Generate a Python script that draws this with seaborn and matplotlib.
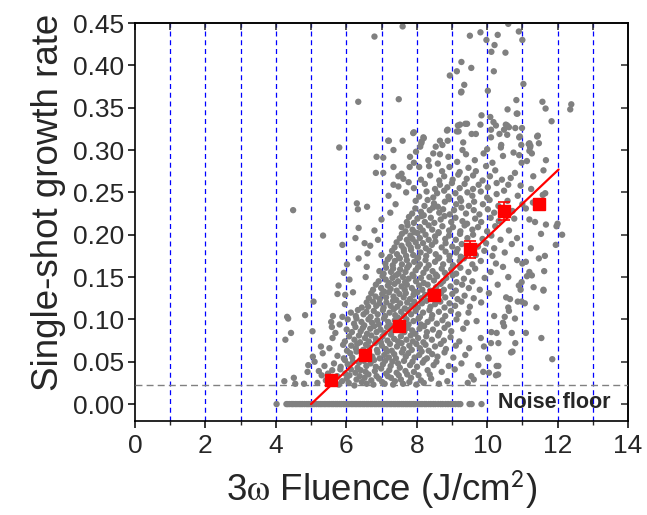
import matplotlib
matplotlib.use("Agg")
import matplotlib.pyplot as plt
import seaborn as sns
import pandas as pd
from matplotlib.ticker import MultipleLocator

# ---------------- data ----------------
# growth-rate cloud (fluence J/cm2, growth rate)
cloud = [
    (4.24,0.027),(4.55,0.024),(4.80,0.024),(5.18,0.025),(5.42,0.028),(5.66,0.031),(5.79,0.023),(5.88,0.027),(6.01,0.030),(6.07,0.025),
    (6.23,0.022),(6.29,0.029),(6.44,0.026),(6.52,0.031),(6.58,0.024),(6.71,0.028),(6.77,0.023),(6.93,0.030),(7.02,0.026),(7.09,0.024),
    (7.27,0.031),(7.33,0.023),(7.38,0.027),(7.55,0.029),(7.61,0.024),(7.79,0.026),(7.84,0.031),(7.99,0.023),(8.12,0.028),(8.20,0.025),
    (8.41,0.030),(8.63,0.024),(8.87,0.027),(9.62,0.029),(9.55,0.033),(9.45,0.025),
    (4.51,0.031),(4.90,0.038),(5.30,0.034),(5.22,0.039),(5.48,0.036),(5.60,0.040),(5.74,0.033),(5.83,0.041),(5.97,0.036),(6.09,0.034),
    (6.13,0.041),(6.26,0.037),(6.38,0.033),(6.41,0.040),(6.55,0.038),(6.63,0.035),(6.81,0.039),(6.86,0.033),(6.99,0.042),(7.13,0.036),
    (7.18,0.033),(7.22,0.040),(7.43,0.037),(7.49,0.034),(7.68,0.039),(7.73,0.035),(7.92,0.038),(8.05,0.034),(8.31,0.040),(8.37,0.035),
    (8.71,0.038),(9.08,0.041),(9.89,0.038),(10.05,0.037),(10.25,0.034),(10.31,0.035),
    (4.92,0.046),(5.10,0.050),(5.38,0.045),(5.65,0.048),(5.84,0.044),(5.96,0.052),(6.04,0.047),(6.19,0.050),(6.32,0.043),(6.36,0.049),
    (6.50,0.051),(6.57,0.045),(6.69,0.048),(6.79,0.052),(6.84,0.044),(7.04,0.047),(7.10,0.051),(7.26,0.045),(7.31,0.050),(7.47,0.048),
    (7.52,0.043),(7.64,0.051),(7.81,0.046),(7.88,0.050),(8.01,0.044),(8.17,0.049),(8.22,0.052),(8.48,0.046),(8.56,0.050),(8.91,0.045),
    (9.27,0.048),(9.75,0.046),(10.27,0.045),(10.32,0.045),(10.04,0.054),
    (5.05,0.056),(5.33,0.060),(5.75,0.057),(5.93,0.054),(6.11,0.060),(6.17,0.055),(6.29,0.062),(6.45,0.057),(6.49,0.053),(6.61,0.059),
    (6.74,0.056),(6.89,0.061),(6.95,0.054),(7.08,0.058),(7.16,0.062),(7.21,0.055),(7.36,0.059),(7.41,0.054),(7.58,0.061),(7.69,0.056),
    (7.76,0.060),(7.94,0.055),(8.07,0.058),(8.14,0.062),(8.29,0.054),(8.44,0.059),(8.59,0.056),(8.79,0.061),(9.04,0.055),(9.38,0.058),
    (10.03,0.055),(10.68,0.061),(10.72,0.062),(11.85,0.053),
    (5.28,0.068),(5.52,0.066),(5.91,0.070),(6.02,0.063),(6.14,0.069),(6.27,0.066),(6.31,0.071),(6.48,0.064),(6.56,0.070),(6.66,0.067),
    (6.82,0.072),(6.87,0.064),(7.01,0.069),(7.12,0.065),(7.24,0.071),(7.29,0.063),(7.44,0.068),(7.57,0.072),(7.62,0.065),(7.79,0.069),
    (7.86,0.064),(7.99,0.071),(8.09,0.066),(8.25,0.070),(8.34,0.063),(8.52,0.068),(8.68,0.071),(8.83,0.065),(9.11,0.069),(9.49,0.066),
    (9.91,0.068),(10.11,0.072),(10.32,0.072),(10.80,0.072),
    (4.27,0.076),(5.61,0.078),(5.96,0.074),(6.08,0.080),(6.23,0.076),(6.36,0.081),(6.39,0.073),(6.53,0.078),(6.64,0.074),(6.71,0.081),
    (6.84,0.077),(6.98,0.073),(7.03,0.080),(7.17,0.075),(7.27,0.082),(7.36,0.077),(7.47,0.074),(7.55,0.080),(7.71,0.076),(7.83,0.081),
    (7.89,0.074),(8.04,0.078),(8.19,0.073),(8.27,0.080),(8.43,0.076),(8.61,0.081),(8.77,0.075),(8.96,0.079),(9.21,0.074),(9.82,0.078),
    (11.54,0.078),(11.10,0.084),
    (4.43,0.084),(5.04,0.086),(5.59,0.091),(5.69,0.084),(6.01,0.088),(6.16,0.085),(6.26,0.091),(6.41,0.086),(6.47,0.090),(6.59,0.083),
    (6.68,0.089),(6.79,0.092),(6.86,0.085),(6.97,0.088),(7.09,0.084),(7.16,0.091),(7.28,0.087),(7.65,0.085),(7.74,0.090),(7.87,0.087),
    (7.96,0.083),(8.08,0.089),(8.21,0.092),(8.29,0.085),(8.46,0.088),(8.64,0.084),(8.79,0.090),(8.98,0.086),(9.32,0.089),(10.12,0.085),
    (10.27,0.084),(10.70,0.084),(10.48,0.092),
    (5.57,0.097),(5.81,0.094),(6.04,0.100),(6.22,0.095),(6.29,0.101),(6.43,0.097),(6.51,0.093),(6.63,0.100),(6.73,0.096),(6.88,0.099),
    (6.93,0.094),(7.07,0.101),(7.19,0.097),(7.25,0.093),(7.38,0.099),(7.47,0.102),(7.59,0.095),(7.71,0.100),(7.77,0.094),(7.91,0.098),
    (8.05,0.101),(8.12,0.094),(8.31,0.097),(8.42,0.101),(8.57,0.095),(8.73,0.099),(8.89,0.094),(9.13,0.100),(9.42,0.096),(9.70,0.098),
    (10.45,0.096),(10.79,0.101),(10.50,0.103),
    (4.32,0.103),(4.35,0.101),(4.83,0.105),(5.62,0.104),(5.89,0.103),(6.13,0.108),(6.27,0.104),(6.33,0.111),(6.49,0.106),(6.57,0.109),
    (6.69,0.103),(6.78,0.110),(6.89,0.106),(7.04,0.111),(7.10,0.104),(7.23,0.108),(7.35,0.112),(7.39,0.105),(7.56,0.109),(7.64,0.104),
    (7.75,0.111),(7.84,0.106),(7.97,0.110),(8.09,0.103),(8.18,0.108),(8.36,0.111),(8.44,0.105),(8.63,0.109),(8.81,0.104),(8.97,0.110),
    (9.18,0.106),(9.47,0.108),(10.20,0.104),(10.62,0.110),
    (5.07,0.121),(5.96,0.118),(6.44,0.114),(6.58,0.120),(6.62,0.115),(6.76,0.121),(6.85,0.116),(6.94,0.119),(7.06,0.114),(7.14,0.120),
    (7.26,0.116),(7.33,0.122),(7.45,0.115),(7.53,0.119),(7.66,0.113),(7.73,0.120),(7.86,0.116),(7.93,0.121),(8.03,0.114),(8.15,0.119),
    (8.28,0.122),(8.39,0.115),(8.52,0.118),(8.67,0.121),(8.79,0.114),(8.93,0.119),(9.09,0.116),(9.27,0.121),(9.51,0.115),(9.83,0.120),
    (10.60,0.114),(10.87,0.121),(10.98,0.121),(11.07,0.119),(11.40,0.114),
    (5.75,0.130),(5.97,0.129),(6.19,0.132),(6.64,0.125),(6.71,0.131),(6.83,0.127),(6.95,0.124),(7.02,0.130),(7.13,0.126),(7.21,0.132),
    (7.34,0.127),(7.42,0.123),(7.51,0.130),(7.63,0.126),(7.69,0.131),(7.81,0.124),(7.91,0.129),(8.02,0.132),(8.13,0.125),(8.24,0.129),
    (8.62,0.123),(8.69,0.131),(8.81,0.126),(9.01,0.130),(9.16,0.124),(9.36,0.128),(9.62,0.125),(10.05,0.131),(10.54,0.126),(10.65,0.124),
    (11.60,0.134),
    (5.78,0.140),(6.76,0.135),(6.84,0.141),(6.99,0.137),(7.07,0.133),(7.18,0.140),(7.26,0.136),(7.37,0.142),(7.43,0.134),(7.57,0.139),
    (7.66,0.135),(7.72,0.141),(7.86,0.137),(7.93,0.133),(8.07,0.140),(8.16,0.135),(8.31,0.141),(8.38,0.134),(8.55,0.138),(8.68,0.142),
    (8.77,0.135),(8.96,0.139),(9.11,0.134),(9.29,0.141),(9.48,0.137),(9.79,0.135),(10.30,0.141),(10.95,0.135),(10.90,0.140),(11.32,0.138),
    (11.60,0.135),
    (6.09,0.147),(6.55,0.150),(6.92,0.145),(7.03,0.151),(7.12,0.147),(7.22,0.143),(7.31,0.149),(7.41,0.152),(7.47,0.145),(7.61,0.150),
    (7.67,0.144),(7.77,0.148),(7.91,0.151),(7.98,0.145),(8.12,0.149),(8.20,0.143),(8.36,0.150),(8.49,0.146),(8.58,0.151),(8.75,0.145),
    (8.84,0.149),(9.02,0.152),(9.13,0.144),(9.34,0.148),(9.58,0.145),(9.93,0.149),(10.60,0.150),(10.98,0.144),(11.13,0.151),(11.27,0.152),
    (5.93,0.155),(6.58,0.162),(6.94,0.157),(7.06,0.154),(7.13,0.161),(7.27,0.156),(7.33,0.160),(7.48,0.154),(7.53,0.159),(7.68,0.156),
    (7.73,0.161),(7.88,0.153),(7.97,0.158),(8.04,0.162),(8.19,0.155),(8.27,0.160),(8.45,0.157),(8.54,0.153),(8.71,0.160),(8.80,0.155),
    (8.98,0.159),(9.12,0.154),(9.24,0.161),(9.47,0.156),(9.66,0.160),(10.10,0.156),(10.45,0.162),(11.20,0.156),(11.62,0.157),
    (6.02,0.165),(6.35,0.172),(7.11,0.166),(7.18,0.171),(7.32,0.164),(7.38,0.169),(7.52,0.172),(7.58,0.165),(7.72,0.170),(7.78,0.164),
    (7.93,0.168),(8.02,0.172),(8.09,0.165),(8.25,0.170),(8.34,0.164),(8.52,0.168),(8.61,0.172),(8.75,0.165),(8.93,0.170),(9.03,0.164),
    (9.22,0.169),(9.34,0.172),(9.58,0.165),(9.82,0.169),(10.25,0.166),(10.85,0.170),(11.00,0.166),(11.10,0.168),(11.47,0.172),
    (6.60,0.178),(7.00,0.176),(7.24,0.174),(7.30,0.181),(7.44,0.177),(7.50,0.173),(7.64,0.180),(7.70,0.175),(7.84,0.182),(7.90,0.176),
    (8.04,0.173),(8.11,0.179),(8.27,0.175),(8.36,0.181),(8.54,0.177),(8.64,0.173),(8.82,0.180),(8.93,0.175),(9.12,0.179),(9.25,0.174),
    (9.68,0.176),(9.92,0.181),(10.15,0.175),(10.50,0.179),(11.64,0.175),
    (5.89,0.188),(6.52,0.190),(6.68,0.187),(7.37,0.185),(7.43,0.191),(7.57,0.187),(7.63,0.183),(7.77,0.189),(7.83,0.185),(7.97,0.191),
    (8.03,0.186),(8.18,0.190),(8.26,0.184),(8.43,0.188),(8.53,0.192),(8.71,0.185),(8.82,0.190),(9.01,0.186),(9.16,0.183),(9.28,0.189),
    (9.74,0.186),(9.97,0.190),(10.20,0.184),(10.70,0.189),(11.24,0.184),(11.95,0.188),
    (5.34,0.199),(6.26,0.196),(6.90,0.194),(7.52,0.196),(7.58,0.201),(7.72,0.194),(7.82,0.199),(7.88,0.195),(8.02,0.202),(8.09,0.196),
    (8.25,0.200),(8.34,0.194),(8.52,0.198),(8.62,0.202),(8.81,0.195),(8.92,0.199),(9.11,0.194),(9.23,0.201),(9.44,0.196),(9.60,0.200),
    (9.87,0.195),(10.12,0.199),(10.38,0.194),(10.85,0.196),(11.53,0.201),(12.13,0.200),
    (6.35,0.208),(6.80,0.205),(7.57,0.209),(7.68,0.204),(7.74,0.211),(7.88,0.206),(7.94,0.203),(8.09,0.209),(8.17,0.205),(8.34,0.211),
    (8.44,0.206),(8.62,0.203),(8.73,0.210),(8.92,0.205),(9.03,0.209),(9.24,0.204),(9.36,0.211),(9.58,0.206),(9.74,0.209),(10.00,0.204),
    (10.23,0.210),(10.62,0.205),(11.67,0.212),(11.97,0.210),(12.00,0.213),
    (7.00,0.218),(7.72,0.215),(7.78,0.221),(7.92,0.214),(8.02,0.219),(8.14,0.222),(8.23,0.215),(8.40,0.220),(8.50,0.214),(8.68,0.218),
    (8.79,0.222),(8.98,0.215),(9.10,0.220),(9.30,0.216),(9.43,0.213),(9.66,0.219),(9.83,0.215),(10.10,0.220),(10.33,0.216),(10.77,0.219),
    (11.20,0.218),(11.36,0.215),
    (4.49,0.229),(6.33,0.230),(6.59,0.233),(7.25,0.226),(7.87,0.225),(7.96,0.231),(8.12,0.227),(8.20,0.223),(8.37,0.229),(8.46,0.232),
    (8.64,0.226),(8.75,0.230),(8.94,0.224),(9.06,0.229),(9.27,0.232),(9.40,0.225),(9.62,0.229),(9.78,0.224),(10.02,0.230),(10.20,0.226),
    (10.72,0.228),(11.10,0.231),
    (6.30,0.237),(7.40,0.236),(7.97,0.240),(8.22,0.234),(8.31,0.241),(8.49,0.237),(8.60,0.233),(8.80,0.239),(8.92,0.242),(9.12,0.236),
    (9.26,0.240),(9.48,0.234),(9.63,0.239),(9.88,0.236),(10.07,0.241),(10.32,0.234),(10.58,0.240),(11.00,0.236),(11.30,0.238),
    (7.20,0.246),(7.70,0.250),(8.07,0.245),(8.28,0.251),(8.47,0.244),(8.58,0.249),(8.78,0.252),(8.90,0.245),(9.10,0.249),(9.23,0.243),
    (9.44,0.250),(9.58,0.246),(9.82,0.251),(10.00,0.244),(10.27,0.248),(10.48,0.252),(10.87,0.246),(11.58,0.247),(11.65,0.249),
    (7.34,0.259),(7.48,0.257),(7.77,0.262),(7.92,0.255),(8.23,0.260),(8.52,0.254),(8.66,0.259),(8.87,0.256),(9.00,0.261),(9.22,0.255),
    (9.36,0.260),(9.60,0.254),(9.76,0.259),(10.02,0.256),(10.27,0.261),(10.60,0.259),(10.95,0.258),(11.25,0.254),
    (7.48,0.269),(7.57,0.272),(7.62,0.266),(8.12,0.265),(8.38,0.270),(8.64,0.264),(8.78,0.269),(9.02,0.265),(9.18,0.271),(9.42,0.266),
    (9.60,0.270),(9.87,0.264),(10.08,0.269),(10.42,0.265),(10.67,0.267),(11.31,0.269),
    (6.84,0.273),(7.05,0.273),(7.34,0.280),(7.80,0.280),(8.07,0.280),(8.35,0.281),(8.72,0.275),(8.93,0.280),(9.22,0.274),(9.47,0.279),
    (9.68,0.275),(9.97,0.281),(10.23,0.276),(10.79,0.273),(11.60,0.276),
    (7.92,0.285),(8.33,0.288),(8.60,0.284),(8.90,0.292),(9.15,0.286),(9.40,0.295),(9.65,0.288),(9.90,0.296),(10.15,0.285),(10.45,0.293),
    (10.98,0.285),(11.13,0.287),(11.67,0.288),(8.66,0.295),(9.30,0.300),(10.00,0.301),(11.20,0.299),(7.05,0.291),(6.86,0.292),(7.81,0.292),
    (7.98,0.298),(8.47,0.296),(7.34,0.300),(10.75,0.297),(10.91,0.294),(11.27,0.296),
    (5.80,0.303),(8.54,0.304),(8.10,0.304),(8.14,0.310),(8.19,0.315),(7.19,0.311),(7.60,0.311),(7.90,0.320),(8.20,0.314),(8.13,0.308),
    (7.21,0.311),(8.66,0.311),(8.73,0.306),(8.88,0.311),(9.32,0.309),(9.19,0.322),(8.88,0.324),(9.17,0.329),(9.43,0.331),(10.11,0.315),
    (10.40,0.306),(10.39,0.303),(10.91,0.315),(11.18,0.307),(11.23,0.305),(11.47,0.308),(11.44,0.317),(11.20,0.308),(11.22,0.303),
    (10.97,0.306),(10.93,0.316),(7.92,0.321),(8.86,0.323),(9.14,0.322),(9.56,0.319),(9.68,0.319),(10.35,0.319),(10.57,0.318),
    (11.42,0.316),(10.48,0.324),(10.57,0.329),(9.23,0.330),(9.38,0.331),(9.81,0.330),(10.11,0.324),(10.53,0.330),(10.62,0.327),
    (10.80,0.326),(10.99,0.326),(10.25,0.329),(10.18,0.333),(10.09,0.339),(9.84,0.341),(11.83,0.334),(10.86,0.343),(10.58,0.348),
    (10.84,0.343),(12.36,0.348),(12.39,0.354),(11.66,0.349),(11.57,0.357),(10.83,0.359),(7.49,0.360),(6.34,0.357),(11.03,0.378),
    (10.02,0.370),(9.27,0.369),(9.35,0.377),(9.26,0.368),(10.19,0.393),(8.94,0.388),(9.14,0.393),(9.55,0.397),(9.27,0.404),
    (10.52,0.415),(11.00,0.430),(10.12,0.416),(10.21,0.424),(9.98,0.430),(10.90,0.440),(10.60,0.449),(10.30,0.436),(9.81,0.439),
    (9.51,0.435),(6.80,0.434),(7.60,0.446),
]

# shots below the detection limit (growth rate 0)
floor_x = [4.02,4.30,4.34,4.39,4.45,4.49,4.55,4.60,4.66,4.71,4.76,4.82,4.88,4.93,4.98,5.04,5.09,5.15,5.21,5.26,
           5.31,5.37,5.42,5.48,5.53,5.59,5.64,5.70,5.75,5.81,5.86,5.92,5.97,6.03,6.08,6.14,6.19,6.25,6.30,6.36,
           6.41,6.47,6.52,6.58,6.63,6.69,6.74,6.80,6.85,6.91,6.96,7.02,7.07,7.13,7.18,7.24,7.29,7.35,7.40,7.46,
           7.51,7.57,7.62,7.68,7.73,7.79,7.84,7.90,7.95,8.03,8.09,8.15,8.22,8.27,8.34,8.40,8.47,8.53,8.61,8.68,
           8.74,8.82,8.89,8.96,9.03,9.10,9.18,9.24,9.50,9.56,9.84]

# binned means with error bars
bin_x = [5.57, 6.53, 7.51, 8.49, 9.50, 10.48, 11.47]
bin_y = [0.028, 0.058, 0.092, 0.129, 0.183, 0.228, 0.236]
bin_err = [0.004, 0.004, 0.004, 0.005, 0.010, 0.011, 0.006]

# linear fit
fit_x = [5.0, 12.03]
fit_y = [0.0, 0.277]

noise_floor = 0.022
grid_x = [1, 2, 3, 4, 5, 6, 7, 8, 9, 10, 11, 12, 13]
y_ticks = [0.0, 0.05, 0.10, 0.15, 0.20, 0.25, 0.30, 0.35, 0.40, 0.45]
y_tick_labels = ['0.00', '0.05', '0.10', '0.15', '0.20', '0.25', '0.30', '0.35', '0.40', '0.45']

# ---------------- plotting ----------------
sns.set_style("ticks")
plt.rcParams['font.family'] = ['Liberation Sans', 'DejaVu Sans']
plt.rcParams['mathtext.fontset'] = 'stix'

df = pd.DataFrame({
    'x': [p[0] for p in cloud] + floor_x,
    'y': [p[1] for p in cloud] + [0.0] * len(floor_x),
})

fig = plt.figure(figsize=(6.47, 5.15), dpi=100)
ax = fig.add_axes([0.2087, 0.1825, 0.7619, 0.7728])

for gx in grid_x:
    ax.axvline(gx, color='blue', lw=0.9, ls=(0, (4, 3)), zorder=0)

sns.scatterplot(data=df, x='x', y='y', ax=ax, color='#808080', s=21,
                edgecolor='none', linewidth=0, zorder=2, legend=False)

ax.axhline(noise_floor, color='#808080', lw=1.0, ls=(0, (5, 3)), zorder=3)

sns.lineplot(x=fit_x, y=fit_y, ax=ax, color='red', lw=1.6, zorder=4)
ax.errorbar(bin_x, bin_y, yerr=bin_err, fmt='s', color='red', ms=9,
            capsize=4, elinewidth=1.2, capthick=1.2, zorder=5)

ax.text(10.3, 0.002, 'Noise floor', fontsize=15.5, fontweight='bold',
        ha='left', va='center', zorder=6)

ax.set_xlim(0, 14)
ax.set_ylim(-0.02, 0.45)
ax.xaxis.set_major_locator(MultipleLocator(2))
ax.xaxis.set_minor_locator(MultipleLocator(1))
ax.set_yticks(y_ticks)
ax.set_yticklabels(y_tick_labels)

ax.tick_params(axis='both', which='major', labelsize=19, width=1.1, color='black')
ax.tick_params(axis='x', which='major', direction='out', length=5, top=False, pad=4)
ax.tick_params(axis='x', which='minor', direction='out', length=3, width=1.0, top=False)
ax.tick_params(axis='y', which='major', direction='out', length=5, right=False, pad=3)

# inward ticks on top and right
ax_top = ax.secondary_xaxis('top')
ax_top.xaxis.set_major_locator(MultipleLocator(1))
ax_top.tick_params(direction='in', length=5, width=1.1, labeltop=False)
ax_top.set_xticklabels([])
ax_right = ax.secondary_yaxis('right')
ax_right.yaxis.set_major_locator(MultipleLocator(0.05))
ax_right.tick_params(direction='in', length=5, width=1.1, labelright=False)
ax_right.set_yticklabels([])
for s in list(ax_top.spines.values()) + list(ax_right.spines.values()):
    s.set_linewidth(1.2)

for s in ax.spines.values():
    s.set_visible(True)
    s.set_linewidth(1.2)
    s.set_color('black')

ax.set_xlabel('3$\\mathrm{\\omega}$ Fluence (J/cm$^{\\mathsf{2}}$)', fontsize=26.5, labelpad=8)
ax.set_ylabel('Single-shot growth rate', fontsize=26.5, labelpad=5)
ax.yaxis.label.set_y(0.55)

fig.savefig('out.png', dpi=100)
